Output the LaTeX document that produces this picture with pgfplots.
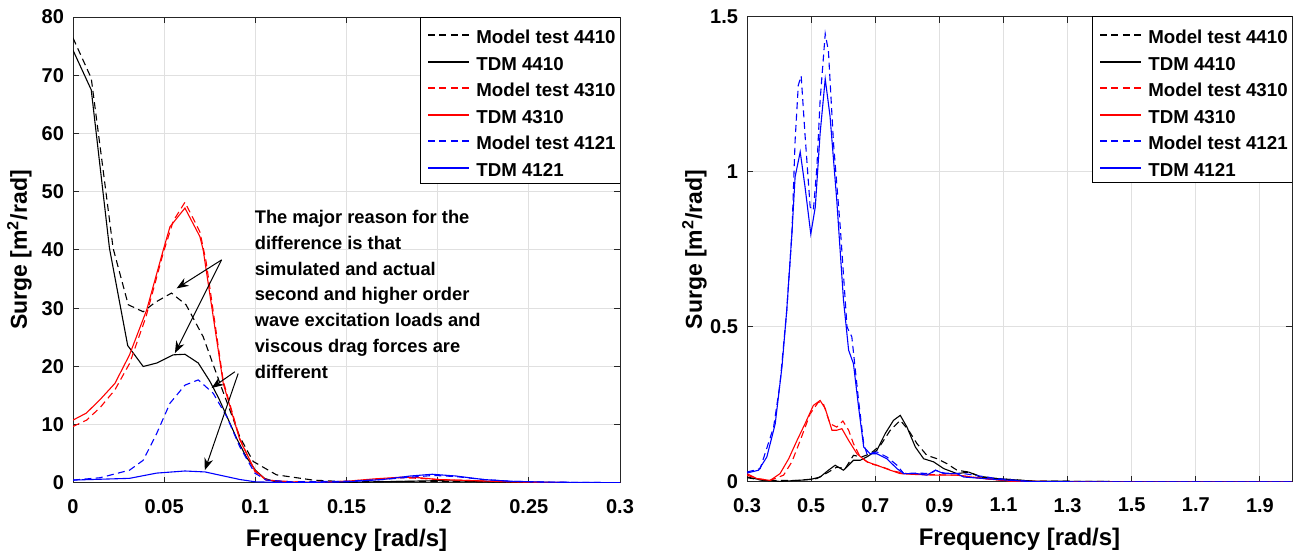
\documentclass[border=0pt]{standalone}
\usepackage{fontspec}
\setmainfont{Liberation Sans}
\usepackage{pgfplots}
\pgfplotsset{compat=1.18}
\usetikzlibrary{arrows.meta}
\tikzset{md/.style={dash pattern=on 3.5pt off 2.2pt}}

\pgfplotsset{
  myaxis/.style={
    scale only axis,
    axis line style={black!85, line width=0.5pt},
    tick style={black!85, line width=0.5pt},
    major tick length=3pt,
    tick align=inside,
    tick pos=both,
    grid=major,
    grid style={black!12, line width=0.5pt},
    scaled ticks=false,
    /pgf/number format/assume math mode=true,
    /pgf/number format/fixed,
    /pgf/number format/precision=2,
    ticklabel style={font=\fontsize{10}{12}\selectfont\bfseries},
    xticklabel style={yshift=-4.5pt},
    yticklabel style={xshift=-1pt},
    label style={font=\fontsize{12}{14}\selectfont\bfseries},
    xlabel style={at={(axis description cs:0.5,0)}, anchor=base, yshift=-32pt},
    every axis plot/.append style={line width=0.55pt},
  },
}

% legend box (manual): drawn at the axis' upper right corner
\newcommand{\legbox}{%
  \draw[draw=black, line width=0.5pt, fill=white]
    ([xshift=-100pt]rel axis cs:1,1) rectangle ([yshift=-83pt]rel axis cs:1,1);}
% #1 offset of the row below the top (pt), #2 line style, #3 text
\newcommand{\legrow}[3]{%
  \draw[#2, line width=0.75pt]
    ([xshift=-96pt, yshift=-#1pt]rel axis cs:1,1) --
    ([xshift=-75.5pt, yshift=-#1pt]rel axis cs:1,1);
  \node[anchor=base west, inner sep=0pt, text=black, font=\fontsize{9.35}{11}\selectfont\bfseries]
    at ([xshift=-72pt, yshift={-#1pt-4.2pt}]rel axis cs:1,1) {#3};}
\newcommand{\legall}{%
  \legbox
  \legrow{9}{black, md}{Model test 4410}
  \legrow{22.5}{black}{TDM 4410}
  \legrow{35.5}{red, md}{Model test 4310}
  \legrow{49}{red}{TDM 4310}
  \legrow{62}{blue, md}{Model test 4121}
  \legrow{75.5}{blue}{TDM 4121}}

\begin{document}
\begin{tikzpicture}
\useasboundingbox (0,0) rectangle (651pt,278pt);

% ---------------- Left axis ----------------
\begin{axis}[myaxis,
  at={(36.5pt,36.5pt)}, anchor=south west,
  width=273.5pt, height=233pt,
  xmin=0, xmax=0.3, ymin=0, ymax=80,
  xtick={0,0.05,0.1,0.15,0.2,0.25,0.3},
  ytick={0,10,20,30,40,50,60,70,80},
  xlabel={Frequency [rad/s]},
  ylabel={Surge [m\textsuperscript{2}/rad]},
  ylabel style={at={(axis description cs:-0.0841,0.5)}, anchor=base, font=\fontsize{11.5}{13}\selectfont\bfseries},
]
% Model test 4410
\addplot[color=black, md] coordinates {
(0,76.4)(0.01,69.5)(0.016,55)(0.022,40.3)(0.0303,30.6)(0.0385,29.4)(0.045,31.0)(0.054,32.6)(0.062,30.6)(0.0714,25.1)(0.0806,17.1)(0.0915,7.9)(0.0988,3.7)(0.1116,1.4)(0.1316,0.5)(0.15,0.2)(0.2,0.3)(0.25,0.1)(0.3,0)};
% TDM 4410
\addplot[color=black] coordinates {
(0,74.3)(0.01,67.5)(0.02,40.3)(0.03,23.6)(0.0385,20.0)(0.046,20.6)(0.055,22.0)(0.0614,22.1)(0.0687,20.6)(0.075,17.5)(0.08,14.5)(0.085,11)(0.09,7.5)(0.095,4.5)(0.1,2.2)(0.105,0.8)(0.11,0.3)(0.12,0.1)(0.15,0.1)(0.2,0.4)(0.25,0.1)(0.3,0)};
% Model test 4310
\addplot[color=red, md] coordinates {
(0,9.7)(0.0075,10.8)(0.015,13.0)(0.023,16.0)(0.031,20.5)(0.04,28.5)(0.0495,39.5)(0.055,45)(0.0614,48.2)(0.0696,43.1)(0.073,38)(0.0824,17.5)(0.0915,7.6)(0.0997,2.0)(0.106,0.5)(0.12,0.2)(0.13,0.1)(0.15,0.3)(0.165,0.6)(0.18,0.9)(0.19,0.8)(0.2,0.6)(0.22,0.4)(0.24,0.2)(0.26,0.1)(0.3,0)};
% TDM 4310
\addplot[color=red] coordinates {
(0,10.8)(0.0073,12.0)(0.0148,14.3)(0.023,17.1)(0.031,22.0)(0.0404,29.7)(0.0495,40.0)(0.0532,44.0)(0.0614,47.2)(0.0696,42.3)(0.0714,40)(0.0824,17.1)(0.0915,7.4)(0.0997,2.2)(0.106,0.5)(0.12,0.2)(0.13,0.1)(0.15,0.3)(0.165,0.7)(0.18,1.0)(0.19,0.9)(0.2,0.6)(0.22,0.4)(0.24,0.2)(0.26,0.1)(0.3,0)};
% Model test 4121
\addplot[color=blue, md] coordinates {
(0,0.5)(0.0148,0.9)(0.031,2.2)(0.0385,3.9)(0.0459,8.5)(0.0532,13.7)(0.0614,16.8)(0.0687,17.7)(0.0769,15.4)(0.0843,11.4)(0.0915,6.2)(0.0997,1.7)(0.106,0.5)(0.12,0.2)(0.15,0.3)(0.17,0.6)(0.185,1.0)(0.198,1.3)(0.21,1.1)(0.225,0.6)(0.24,0.3)(0.26,0.15)(0.3,0.05)};
% TDM 4121
\addplot[color=blue] coordinates {
(0,0.5)(0.031,0.8)(0.0459,1.7)(0.0614,2.06)(0.0724,1.9)(0.0915,0.6)(0.1,0.2)(0.12,0.05)(0.15,0.2)(0.17,0.6)(0.185,1.2)(0.197,1.5)(0.21,1.2)(0.225,0.6)(0.24,0.3)(0.26,0.15)(0.3,0.05)};

\draw[-{Stealth[length=6pt,width=4.5pt]}, line width=0.5pt] (axis cs:0.0815,38.3) -- (axis cs:0.0568,33.4);
\draw[-{Stealth[length=6pt,width=4.5pt]}, line width=0.5pt] (axis cs:0.0815,38.3) -- (axis cs:0.0559,22.3);
\draw[-{Stealth[length=6pt,width=4.5pt]}, line width=0.5pt] (axis cs:0.0888,19.1) -- (axis cs:0.0760,16.3);
\draw[-{Stealth[length=6pt,width=4.5pt]}, line width=0.5pt] (axis cs:0.0906,18.8) -- (axis cs:0.0723,2.2);
\legall
\node[anchor=north west, align=left, inner sep=0pt, font=\fontsize{9.15}{12.9}\selectfont\bfseries]
  at (axis cs:0.0995,46.9) {The major reason for the\\difference is that\\simulated and actual\\second and higher order\\wave excitation loads and\\viscous drag forces are\\different};
\end{axis}

% ---------------- Right axis ----------------
\begin{axis}[myaxis,
  at={(373.5pt,37pt)}, anchor=south west,
  width=272.5pt, height=232.5pt,
  xmin=0.3, xmax=2.0, ymin=0, ymax=1.5,
  xtick={0.3,0.5,0.7,0.9,1.1,1.3,1.5,1.7,1.9},
  ytick={0,0.5,1,1.5},
  xlabel={Frequency [rad/s]},
  ylabel={Surge [m\textsuperscript{2}/rad]},
  ylabel style={at={(axis description cs:-0.0826,0.5)}, anchor=base, font=\fontsize{11.5}{13}\selectfont\bfseries},
]
% Model test 4410
\addplot[color=black, md] coordinates {
(0.3,0.014)(0.352,0.005)(0.456,0.005)(0.518,0.011)(0.554,0.032)(0.580,0.048)(0.606,0.043)(0.632,0.086)(0.658,0.081)(0.684,0.091)(0.716,0.118)(0.747,0.167)(0.778,0.199)(0.804,0.167)(0.830,0.124)(0.861,0.086)(0.893,0.075)(0.924,0.059)(0.955,0.038)(0.992,0.032)(1.028,0.018)(1.08,0.011)(1.19,0.003)(1.5,0.001)(2.0,0)};
% TDM 4410
\addplot[color=black] coordinates {
(0.3,0.016)(0.352,0.005)(0.403,0.002)(0.456,0.005)(0.497,0.008)(0.528,0.016)(0.554,0.038)(0.575,0.054)(0.601,0.038)(0.632,0.070)(0.653,0.070)(0.674,0.081)(0.705,0.102)(0.731,0.156)(0.757,0.199)(0.778,0.215)(0.799,0.177)(0.825,0.113)(0.851,0.075)(0.882,0.065)(0.914,0.043)(0.955,0.027)(0.992,0.032)(1.028,0.016)(1.08,0.011)(1.19,0.003)(1.5,0.001)(2.0,0)};
% Model test 4310
\addplot[color=red, md] coordinates {
(0.3,0.022)(0.331,0.011)(0.372,0.005)(0.414,0.022)(0.440,0.065)(0.466,0.134)(0.497,0.220)(0.523,0.258)(0.538,0.253)(0.559,0.188)(0.580,0.177)(0.599,0.197)(0.617,0.167)(0.632,0.124)(0.653,0.081)(0.684,0.059)(0.716,0.051)(0.757,0.035)(0.799,0.027)(0.872,0.024)(0.955,0.022)(1.04,0.011)(1.13,0.002)(1.5,0)(2.0,0)};
% TDM 4310
\addplot[color=red] coordinates {
(0.3,0.027)(0.331,0.011)(0.372,0.005)(0.403,0.027)(0.430,0.075)(0.456,0.134)(0.481,0.188)(0.507,0.247)(0.528,0.263)(0.544,0.237)(0.565,0.167)(0.580,0.167)(0.596,0.172)(0.617,0.134)(0.643,0.091)(0.674,0.065)(0.705,0.054)(0.747,0.038)(0.778,0.027)(0.830,0.024)(0.893,0.022)(0.955,0.022)(1.04,0.011)(1.13,0.002)(1.5,0)(2.0,0)};
% Model test 4121
\addplot[color=blue, md] coordinates {
(0.3,0.032)(0.341,0.043)(0.383,0.177)(0.403,0.317)(0.424,0.554)(0.44,0.80)(0.45,1.10)(0.46,1.28)(0.469,1.31)(0.481,1.12)(0.497,0.887)(0.507,0.876)(0.518,1.016)(0.528,1.23)(0.544,1.446)(0.554,1.39)(0.570,1.09)(0.591,0.82)(0.612,0.50)(0.627,0.468)(0.648,0.263)(0.664,0.124)(0.674,0.091)(0.705,0.097)(0.736,0.081)(0.768,0.054)(0.789,0.027)(0.830,0.029)(0.872,0.027)(0.888,0.038)(0.914,0.029)(0.976,0.027)(1.08,0.011)(1.19,0.001)(1.5,0)(2.0,0)};
% TDM 4121
\addplot[color=blue] coordinates {
(0.3,0.029)(0.336,0.038)(0.362,0.081)(0.388,0.188)(0.409,0.371)(0.424,0.554)(0.44,0.80)(0.45,0.984)(0.466,1.065)(0.481,0.952)(0.499,0.80)(0.513,0.887)(0.528,1.124)(0.544,1.30)(0.559,1.18)(0.580,0.909)(0.601,0.586)(0.617,0.425)(0.632,0.382)(0.648,0.242)(0.664,0.113)(0.684,0.091)(0.705,0.091)(0.736,0.075)(0.768,0.043)(0.789,0.027)(0.830,0.027)(0.861,0.022)(0.888,0.038)(0.914,0.027)(0.955,0.027)(0.976,0.016)(1.08,0.008)(1.19,0.001)(1.5,0)(2.0,0)};
\legall
\end{axis}
\end{tikzpicture}
\end{document}
